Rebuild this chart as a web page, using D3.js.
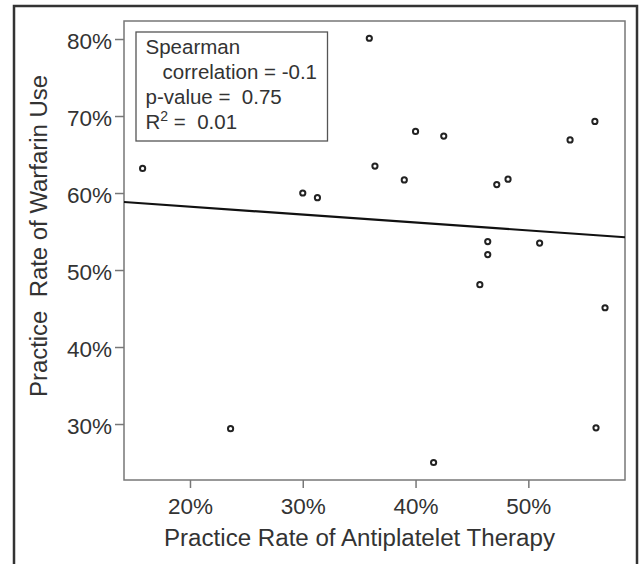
<!DOCTYPE html>
<html lang="en">
<head>
  <meta charset="UTF-8">
  <title>Warfarin vs Antiplatelet Practice Rates</title>
  <style>
    body {
      margin: 0;
      background-color: #fff;
      font-family: "Liberation Sans", Arial, sans-serif;
    }
    svg text {
      fill: #333;
      white-space: pre;
    }
  </style>
</head>
<body>
  <div id="chart"></div>

  <script src="https://d3js.org/d3.v7.min.js"></script>
  <script>
    // values (fractions)
    const antiplatelet = [0.158, 0.359, 0.400, 0.425, 0.537, 0.559, 0.364, 0.390, 0.472, 0.482,
                          0.300, 0.313, 0.464, 0.464, 0.510, 0.457, 0.568, 0.236, 0.416, 0.560];
    const warfarin     = [0.632, 0.801, 0.680, 0.674, 0.669, 0.693, 0.635, 0.617, 0.611, 0.618,
                          0.600, 0.594, 0.537, 0.520, 0.535, 0.481, 0.451, 0.294, 0.250, 0.295];

    const xTicks = [0.2, 0.3, 0.4, 0.5];
    const yTicks = [0.3, 0.4, 0.5, 0.6, 0.7, 0.8];

    // fitted line, warfarin = intercept + slope * antiplatelet
    const fitIntercept = 0.6029;
    const fitSlope = -0.103;

    const statLines = ["Spearman", "   correlation = -0.1", "p-value =  0.75", "R"];

    const width = 640;
    const height = 564;

    const svg = d3.select("#chart")
      .append("svg")
      .attr("width", width)
      .attr("height", height);

    // outer frame (runs past the bottom edge)
    svg.append("rect")
      .attr("x", 14)
      .attr("y", 6)
      .attr("width", 623)
      .attr("height", 620)
      .attr("fill", "none")
      .attr("stroke", "#333")
      .attr("stroke-width", 2.5);

    const x = d3.scaleLinear().domain([0.1415, 0.5857]).range([124, 625]);
    const y = d3.scaleLinear().domain([0.2273, 0.8234]).range([480, 21]);
    const pct = d3.format(".0%");

    // panel
    svg.append("rect")
      .attr("x", x.range()[0])
      .attr("y", y.range()[1])
      .attr("width", x.range()[1] - x.range()[0])
      .attr("height", y.range()[0] - y.range()[1])
      .attr("fill", "none")
      .attr("stroke", "#777")
      .attr("stroke-width", 1.5);

    const yAxis = svg.append("g")
      .attr("transform", `translate(${x.range()[0]},0)`)
      .call(d3.axisLeft(y).tickValues(yTicks).tickFormat(pct).tickSize(9).tickPadding(3));

    const xAxis = svg.append("g")
      .attr("transform", `translate(0,${y.range()[0]})`)
      .call(d3.axisBottom(x).tickValues(xTicks).tickFormat(pct).tickSize(8).tickPadding(10));

    [xAxis, yAxis].forEach(g => {
      g.select(".domain").remove();
      g.selectAll(".tick line").attr("stroke", "#777").attr("stroke-width", 1.5);
      g.selectAll(".tick text")
        .attr("fill", "#333")
        .style("font-family", "'Liberation Sans', Arial, sans-serif")
        .style("font-size", "22.5px");
    });
    yAxis.selectAll(".tick text").attr("dy", "0.4em");

    // axis titles
    svg.append("text")
      .attr("x", 359.5)
      .attr("y", 546)
      .attr("text-anchor", "middle")
      .attr("textLength", 391)
      .attr("lengthAdjust", "spacingAndGlyphs")
      .style("font-size", "23.5px")
      .text("Practice Rate of Antiplatelet Therapy");

    svg.append("text")
      .attr("transform", "translate(47,236) rotate(-90)")
      .attr("text-anchor", "middle")
      .attr("textLength", 322)
      .attr("lengthAdjust", "spacingAndGlyphs")
      .style("font-size", "23.5px")
      .text("Practice  Rate of Warfarin Use");

    // regression line across the panel
    const xs = x.domain();
    svg.append("line")
      .attr("x1", x(xs[0]))
      .attr("y1", y(fitIntercept + fitSlope * xs[0]))
      .attr("x2", x(xs[1]))
      .attr("y2", y(fitIntercept + fitSlope * xs[1]))
      .attr("stroke", "#111")
      .attr("stroke-width", 2.2);

    // points
    svg.append("g")
      .selectAll("circle")
      .data(antiplatelet.map((d, i) => [d, warfarin[i]]))
      .enter()
      .append("circle")
      .attr("cx", d => x(d[0]))
      .attr("cy", d => y(d[1]))
      .attr("r", 2.6)
      .attr("fill", "none")
      .attr("stroke", "#222")
      .attr("stroke-width", 2);

    // stats box
    svg.append("rect")
      .attr("x", 136)
      .attr("y", 32)
      .attr("width", 191.5)
      .attr("height", 109)
      .attr("fill", "#fff")
      .attr("stroke", "#555")
      .attr("stroke-width", 1.3);

    const stats = svg.append("g").style("font-size", "20.5px");
    statLines.forEach((s, i) => {
      const t = stats.append("text")
        .attr("x", 145.5)
        .attr("y", 54.3 + i * 25)
        .text(s);
      if (s === "R") {
        t.append("tspan").attr("dy", -8).style("font-size", "14px").text("2");
        t.append("tspan").attr("dy", 8).text(" =  0.01");
      }
    });
  </script>
</body>
</html>
